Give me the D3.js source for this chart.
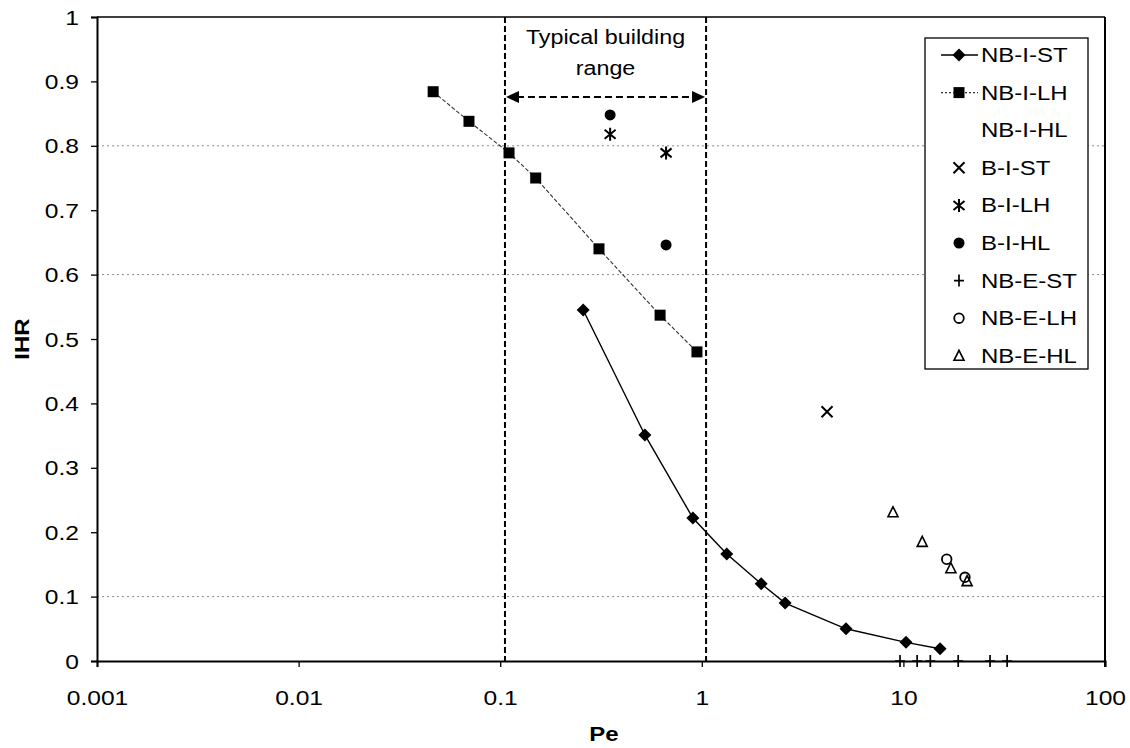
<!DOCTYPE html>
<html>
<head>
<meta charset="utf-8">
<script src="https://cdn.jsdelivr.net/npm/d3@7/dist/d3.min.js"></script>
<style>
  html, body { margin: 0; padding: 0; background: #fff; }
  svg { display: block; }
  text { font-family: "Liberation Sans", Arial, sans-serif; fill: #000; }
</style>
</head>
<body>
<svg id="chart" width="1130" height="748"></svg>
<script>
// ---------------- data ----------------
const seriesNames = ["NB-I-ST", "NB-I-LH", "NB-I-HL", "B-I-ST", "B-I-LH", "B-I-HL", "NB-E-ST", "NB-E-LH", "NB-E-HL"];

const nbIST_pe  = [0.258, 0.522, 0.903, 1.33, 1.97, 2.59, 5.19, 10.3, 15.2];
const nbIST_ihr = [0.545, 0.351, 0.222, 0.166, 0.12, 0.09, 0.05, 0.029, 0.019];

const nbILH_pe  = [0.0465, 0.070, 0.1106, 0.150, 0.309, 0.621, 0.946];
const nbILH_ihr = [0.884, 0.838, 0.789, 0.75, 0.64, 0.537, 0.48];

const nbIHL_pe  = [];
const nbIHL_ihr = [];

const bIST_pe  = [4.18];
const bIST_ihr = [0.387];

const bILH_pe  = [0.351, 0.665];
const bILH_ihr = [0.818, 0.789];

const bIHL_pe  = [0.351, 0.665];
const bIHL_ihr = [0.848, 0.646];

const nbEST_pe  = [9.62, 11.7, 13.6, 18.7, 26.9, 32.7];
const nbEST_ihr = [0, 0, 0, 0, 0, 0];

const nbELH_pe  = [16.4, 20.2];
const nbELH_ihr = [0.158, 0.13];

const nbEHL_pe  = [8.88, 12.4, 17.2, 20.7];
const nbEHL_ihr = [0.231, 0.185, 0.144, 0.124];

const xTicks = [0.001, 0.01, 0.1, 1, 10, 100];
const xTickLabels = ["0.001", "0.01", "0.1", "1", "10", "100"];
const yTicks = [0, 0.1, 0.2, 0.3, 0.4, 0.5, 0.6, 0.7, 0.8, 0.9, 1];
const yTickLabels = ["0", "0.1", "0.2", "0.3", "0.4", "0.5", "0.6", "0.7", "0.8", "0.9", "1"];
const gridValues = [0.1, 0.6, 0.8];
const rangeBounds = [0.1056, 1.05];
const rangeLabel = ["Typical building", "range"];
const xTitle = "Pe";
const yTitle = "IHR";

// ---------------- layout ----------------
const L = 97, R = 1105, T = 17, B = 661;
const svg = d3.select("#chart");
const x = d3.scaleLog().domain([0.001, 100]).range([L, R]);
const y = d3.scaleLinear().domain([0, 1]).range([B, T]);
const SX = 1.2; // horizontal stretch of scanned text

const series = [
  {name: seriesNames[0], pe: nbIST_pe, ihr: nbIST_ihr, marker: "diamond",  line: "solid"},
  {name: seriesNames[1], pe: nbILH_pe, ihr: nbILH_ihr, marker: "square",   line: "dashed"},
  {name: seriesNames[2], pe: nbIHL_pe, ihr: nbIHL_ihr, marker: "none",     line: "none"},
  {name: seriesNames[3], pe: bIST_pe,  ihr: bIST_ihr,  marker: "x",        line: "none"},
  {name: seriesNames[4], pe: bILH_pe,  ihr: bILH_ihr,  marker: "asterisk", line: "none"},
  {name: seriesNames[5], pe: bIHL_pe,  ihr: bIHL_ihr,  marker: "circle",   line: "none"},
  {name: seriesNames[6], pe: nbEST_pe, ihr: nbEST_ihr, marker: "plus",     line: "none"},
  {name: seriesNames[7], pe: nbELH_pe, ihr: nbELH_ihr, marker: "ocircle",  line: "none"},
  {name: seriesNames[8], pe: nbEHL_pe, ihr: nbEHL_ihr, marker: "triangle", line: "none"}
];

// gridlines
svg.append("g").selectAll("line").data(gridValues).join("line")
  .attr("x1", L).attr("x2", R)
  .attr("y1", d => y(d)).attr("y2", d => y(d))
  .attr("stroke", "#8a8a8a").attr("stroke-width", 1)
  .attr("stroke-dasharray", "2,3");

// axes
const yAxis = d3.axisLeft(y).tickValues(yTicks).tickFormat((d, i) => yTickLabels[i]).tickSize(6).tickPadding(0);
const gy = svg.append("g").attr("transform", `translate(${L},0)`).call(yAxis);
gy.select(".domain").attr("stroke", "#000").attr("stroke-width", 2);
gy.selectAll(".tick line").attr("stroke", "#000").attr("stroke-width", 1.3);
gy.selectAll(".tick text")
  .attr("font-size", 20.5).attr("font-family", "Liberation Sans, Arial, sans-serif")
  .attr("x", -15).attr("dy", "0.35em")
  .attr("transform", `scale(${SX},1)`);

const xAxis = d3.axisBottom(x).tickValues(xTicks).tickFormat((d, i) => xTickLabels[i]).tickSize(6);
const gx = svg.append("g").attr("transform", `translate(0,${B})`).call(xAxis);
gx.select(".domain").attr("stroke", "#000").attr("stroke-width", 2);
gx.selectAll(".tick line").attr("stroke", "#000").attr("stroke-width", 1.3);
gx.selectAll(".tick text")
  .attr("font-size", 20.5).attr("font-family", "Liberation Sans, Arial, sans-serif")
  .attr("y", 44).attr("dy", 0)
  .attr("transform", `scale(${SX},1)`);

// top and right border
svg.append("line").attr("x1", L).attr("x2", R).attr("y1", T).attr("y2", T)
  .attr("stroke", "#000").attr("stroke-width", 1.5);
svg.append("line").attr("x1", R).attr("x2", R).attr("y1", T).attr("y2", B + 6)
  .attr("stroke", "#000").attr("stroke-width", 2);

// axis titles
svg.append("text").attr("transform", `translate(${(L + R) / 2 + 3},741) scale(${SX},1)`)
  .attr("text-anchor", "middle").attr("font-size", 20).attr("font-weight", "bold").text(xTitle);
svg.append("text").attr("transform", `translate(29,${(T + B) / 2}) rotate(-90) scale(${SX},1)`)
  .attr("text-anchor", "middle").attr("font-size", 20).attr("font-weight", "bold").text(yTitle);

// typical building range
svg.append("g").selectAll("line").data(rangeBounds).join("line")
  .attr("x1", d => x(d)).attr("x2", d => x(d)).attr("y1", T).attr("y2", B)
  .attr("stroke", "#000").attr("stroke-width", 2).attr("stroke-dasharray", "6,3");
const ay = 97;
svg.append("line").attr("x1", x(rangeBounds[0]) + 12).attr("x2", x(rangeBounds[1]) - 12)
  .attr("y1", ay).attr("y2", ay).attr("stroke", "#000").attr("stroke-width", 2)
  .attr("stroke-dasharray", "7,4");
const ax0 = x(rangeBounds[0]), ax1 = x(rangeBounds[1]);
svg.append("path").attr("d", `M${ax0 + 1},${ay} L${ax0 + 14},${ay - 6} L${ax0 + 14},${ay + 6} Z`).attr("fill", "#000");
svg.append("path").attr("d", `M${ax1 - 1},${ay} L${ax1 - 14},${ay - 6} L${ax1 - 14},${ay + 6} Z`).attr("fill", "#000");
const cx = (ax0 + ax1) / 2;
svg.append("text").attr("transform", `translate(${cx},44) scale(1.11,1)`)
  .attr("text-anchor", "middle").attr("font-size", 21).text(rangeLabel[0]);
svg.append("text").attr("transform", `translate(${cx},75) scale(1.11,1)`)
  .attr("text-anchor", "middle").attr("font-size", 21).text(rangeLabel[1]);

// marker drawing
function drawMarker(g, type, px, py) {
  switch (type) {
    case "diamond":
      g.append("path").attr("d", `M${px},${py - 6.5} L${px + 6.5},${py} L${px},${py + 6.5} L${px - 6.5},${py} Z`).attr("fill", "#000");
      break;
    case "square":
      g.append("rect").attr("x", px - 5.5).attr("y", py - 5.5).attr("width", 11).attr("height", 11).attr("fill", "#000");
      break;
    case "x":
      g.append("path").attr("d", `M${px - 5.5},${py - 5.5} L${px + 5.5},${py + 5.5} M${px - 5.5},${py + 5.5} L${px + 5.5},${py - 5.5}`)
        .attr("stroke", "#000").attr("stroke-width", 2);
      break;
    case "asterisk":
      g.append("path").attr("d", `M${px - 5.5},${py - 4.5} L${px + 5.5},${py + 4.5} M${px - 5.5},${py + 4.5} L${px + 5.5},${py - 4.5} M${px},${py - 6.5} L${px},${py + 6.5}`)
        .attr("stroke", "#000").attr("stroke-width", 2);
      break;
    case "circle":
      g.append("circle").attr("cx", px).attr("cy", py).attr("r", 5.5).attr("fill", "#000");
      break;
    case "plus":
      g.append("path").attr("d", `M${px - 5},${py} L${px + 5},${py} M${px},${py - 6} L${px},${py + 6}`)
        .attr("stroke", "#000").attr("stroke-width", 1.7);
      break;
    case "ocircle":
      g.append("circle").attr("cx", px).attr("cy", py).attr("r", 4.8).attr("fill", "none")
        .attr("stroke", "#000").attr("stroke-width", 1.8);
      break;
    case "triangle":
      g.append("path").attr("d", `M${px},${py - 5.5} L${px + 5},${py + 4.5} L${px - 5},${py + 4.5} Z`).attr("fill", "none")
        .attr("stroke", "#000").attr("stroke-width", 1.6);
      break;
  }
}

const lineGen = d3.line().x(d => x(d[0])).y(d => y(d[1]));
const plot = svg.append("g");
series.forEach(s => {
  const pts = s.pe.map((p, i) => [p, s.ihr[i]]);
  if (s.line !== "none" && pts.length) {
    plot.append("path").datum(pts).attr("d", lineGen).attr("fill", "none")
      .attr("stroke", s.line === "solid" ? "#000" : "#333")
      .attr("stroke-width", s.line === "solid" ? 1.4 : 1.1)
      .attr("stroke-dasharray", s.line === "solid" ? null : "4,2");
  }
  const mg = plot.append("g");
  pts.forEach(p => drawMarker(mg, s.marker, x(p[0]), y(p[1])));
});

// legend
const lg = svg.append("g");
lg.append("rect").attr("x", 925).attr("y", 38).attr("width", 163).attr("height", 331)
  .attr("fill", "#fff").attr("stroke", "#000").attr("stroke-width", 1.3);
series.forEach((s, i) => {
  const cy = 55 + i * 37.6;
  if (s.line !== "none") {
    lg.append("line").attr("x1", 941).attr("x2", 978).attr("y1", cy).attr("y2", cy)
      .attr("stroke", s.line === "solid" ? "#000" : "#333")
      .attr("stroke-width", s.line === "solid" ? 1.4 : 1.1)
      .attr("stroke-dasharray", s.line === "solid" ? null : "2,2");
  }
  drawMarker(lg, s.marker, 959, cy);
  lg.append("text").attr("transform", `translate(981,${cy + 7}) scale(${SX},1)`)
    .attr("font-size", 20).text(s.name);
});
</script>
</body>
</html>
